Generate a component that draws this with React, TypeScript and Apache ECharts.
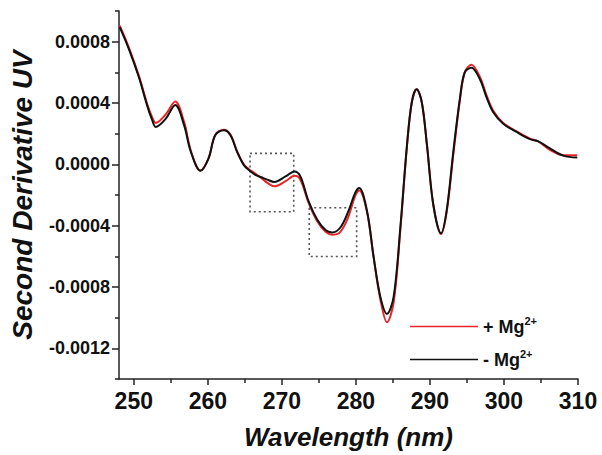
import React, { useEffect, useRef } from "react";
import * as echarts from "echarts";

const wavelength = [
  248.1, 249.35, 250.7, 251.8, 252.5, 252.95, 254.3, 255.6, 256.8, 257.7, 259.0, 260.1, 261.0, 262.15,
  263.05, 263.95, 264.85, 265.5, 266.4, 267.5, 268.0, 269.0, 270.5, 271.7, 272.5, 273.6, 274.75, 275.9,
  276.8, 277.9, 279.0, 279.9, 280.45, 281.5, 282.4, 283.3, 284.2, 285.1, 286.0, 286.9, 287.55, 288.2,
  288.9, 289.6, 290.45, 291.5, 292.25, 293.15, 294.05, 294.7, 295.6, 296.75, 297.65, 298.55, 299.9,
  301.7, 303.5, 304.6, 306.2, 308.0, 309.9,
];

const withoutMg = [
  0.000895, 0.00075, 0.000566, 0.000383, 0.000286, 0.000244, 0.000297, 0.000387, 0.000254, 0.000082,
  -0.0000425, 0.000039, 0.00019, 0.000222, 0.00019, 0.000082, -0.000004, -0.000036, -0.000068, -0.00009,
  -0.0001, -0.000115, -0.000079, -0.0000465, -0.000079, -0.00024, -0.000358, -0.000429, -0.000444,
  -0.000412, -0.000304, -0.000186, -0.000154, -0.000304, -0.000605, -0.000863, -0.000975, -0.000863,
  -0.000412, 0.000125, 0.000405, 0.00049, 0.000405, 0.000125, -0.000262, -0.00045, -0.000304, 0.00008,
  0.00043, 0.0006, 0.00063, 0.000555, 0.000437, 0.00034, 0.000265, 0.000211, 0.000164, 0.000151,
  0.000104, 0.000057, 0.000044,
];

const withMg = [
  0.000905, 0.00076, 0.000575, 0.000395, 0.000305, 0.00027, 0.000325, 0.00041, 0.000275, 0.00009,
  -0.00004, 0.00004, 0.000192, 0.000226, 0.000195, 0.000085, 0.0, -0.00003, -0.00006, -0.0001,
  -0.00012, -0.000143, -0.00011, -0.000075, -0.0001, -0.00025, -0.00037, -0.00044, -0.000459,
  -0.00044, -0.00034, -0.000205, -0.00017, -0.00031, -0.00061, -0.00088, -0.00103, -0.0009,
  -0.00043, 0.00012, 0.000405, 0.00049, 0.000405, 0.000125, -0.000262, -0.000455, -0.000315, 0.00006,
  0.00042, 0.0006, 0.00065, 0.00057, 0.00045, 0.00035, 0.00027, 0.000215, 0.000168, 0.00015,
  0.000095, 0.00006, 0.00006,
];

const xMajorTicks = [250, 260, 270, 280, 290, 300, 310];
const xMinorTicks = [255, 265, 275, 285, 295, 305];
const yMajorTicks = [-0.0012, -0.0008, -0.0004, 0, 0.0004, 0.0008];
const yMinorTicks = [-0.0014, -0.001, -0.0006, -0.0002, 0.0002, 0.0006, 0.001];

// dotted highlight boxes: [x1, y1, x2, y2]
const boxes = [
  [265.7, 0.0000716, 271.6, -0.000309],
  [273.7, -0.000283, 280.1, -0.000601],
];

const seriesNames = ["+ Mg2+", "- Mg2+"];

const FONT = "'Liberation Sans', Arial, Helvetica, sans-serif";

export default function App() {
  const ref = useRef<HTMLDivElement>(null);
  useEffect(() => {
    if (!ref.current) return;
    const chart = echarts.init(ref.current, undefined, { renderer: "svg" });
    const axisColor = "#222";
    const option: any = {
      animation: false,
      backgroundColor: "#fff",
      textStyle: { fontFamily: FONT },
      grid: { left: 118, right: 24, top: 11, bottom: 72, containLabel: false },
      xAxis: [
        {
          type: "value",
          min: 248,
          max: 310,
          position: "bottom",
          name: "Wavelength (nm)",
          nameLocation: "middle",
          nameGap: 45,
          nameTextStyle: { fontFamily: FONT, fontSize: 26, fontWeight: "bold", fontStyle: "italic", color: "#111" },
          axisLine: { show: true, onZero: false, lineStyle: { color: axisColor, width: 1.5 } },
          axisTick: { show: true, customValues: xMajorTicks, length: 6, inside: false, lineStyle: { color: axisColor, width: 1.5 } },
          axisLabel: {
            customValues: xMajorTicks,
            margin: 10,
            fontFamily: FONT,
            fontSize: 23,
            fontWeight: "bold",
            color: "#111",
          },
          splitLine: { show: false },
        },
        {
          type: "value",
          min: 248,
          max: 310,
          position: "bottom",
          offset: 0,
          axisLine: { show: false, onZero: false },
          axisTick: { show: true, customValues: xMinorTicks, length: 4, lineStyle: { color: axisColor, width: 1.5 } },
          axisLabel: { show: false },
          splitLine: { show: false },
        },
      ],
      yAxis: [
        {
          type: "value",
          min: -0.0014,
          max: 0.001,
          position: "left",
          name: "Second Derivative UV",
          nameLocation: "middle",
          nameGap: 83,
          nameTextStyle: { fontFamily: FONT, fontSize: 28, fontWeight: "bold", fontStyle: "italic", color: "#111" },
          axisLine: { show: true, onZero: false, lineStyle: { color: axisColor, width: 1.5 } },
          axisTick: { show: true, customValues: yMajorTicks, length: 7, lineStyle: { color: axisColor, width: 1.5 } },
          axisLabel: {
            customValues: yMajorTicks,
            margin: 9,
            fontFamily: FONT,
            fontSize: 18,
            fontWeight: "bold",
            color: "#111",
            formatter: (v: number) => (Math.abs(v) < 1e-9 ? "0.0000" : v.toFixed(4)),
          },
          splitLine: { show: false },
        },
        {
          type: "value",
          min: -0.0014,
          max: 0.001,
          position: "left",
          offset: 0,
          axisLine: { show: false, onZero: false },
          axisTick: { show: true, customValues: yMinorTicks, length: 4, lineStyle: { color: axisColor, width: 1.5 } },
          axisLabel: { show: false },
          splitLine: { show: false },
        },
      ],
      legend: {
        show: true,
        orient: "vertical",
        left: 405,
        top: 310,
        icon: "rect",
        itemWidth: 68,
        itemHeight: 1.6,
        itemGap: 10,
        data: seriesNames,
        formatter: (name: string) => {
          const base = name.replace("2+", "");
          return `{a|${base}}{s|2+}`;
        },
        textStyle: {
          fontFamily: FONT,
          color: "#111",
          rich: {
            a: { fontFamily: FONT, fontSize: 18, fontWeight: "bold", color: "#111", lineHeight: 24 },
            s: { fontFamily: FONT, fontSize: 11, fontWeight: "bold", color: "#111", padding: [0, 0, 12, 0], lineHeight: 24 },
          },
        },
      },
      series: [
        {
          name: seriesNames[0],
          type: "line",
          xAxisIndex: 0,
          yAxisIndex: 0,
          data: wavelength.map((x, i) => [x, withMg[i]]),
          symbol: "none",
          smooth: 0.35,
          color: "#e8262a",
          lineStyle: { color: "#e8262a", width: 2 },
          z: 2,
        },
        {
          name: seriesNames[1],
          type: "line",
          xAxisIndex: 0,
          yAxisIndex: 0,
          data: wavelength.map((x, i) => [x, withoutMg[i]]),
          symbol: "none",
          smooth: 0.35,
          color: "#111",
          lineStyle: { color: "#111", width: 2 },
          z: 3,
          markArea: {
            silent: true,
            itemStyle: {
              color: "rgba(0,0,0,0)",
              borderColor: "#555",
              borderWidth: 1.6,
              borderType: [2, 3],
            },
            label: { show: false },
            data: boxes.map((b) => [{ coord: [b[0], b[1]] }, { coord: [b[2], b[3]] }]),
          },
        },
      ],
    };
    chart.setOption(option);
    return () => chart.dispose();
  }, []);
  return (
    <div
      ref={ref}
      style={{ position: "absolute", left: 0, top: 0, width: 602, height: 455, background: "#fff" }}
    />
  );
}
